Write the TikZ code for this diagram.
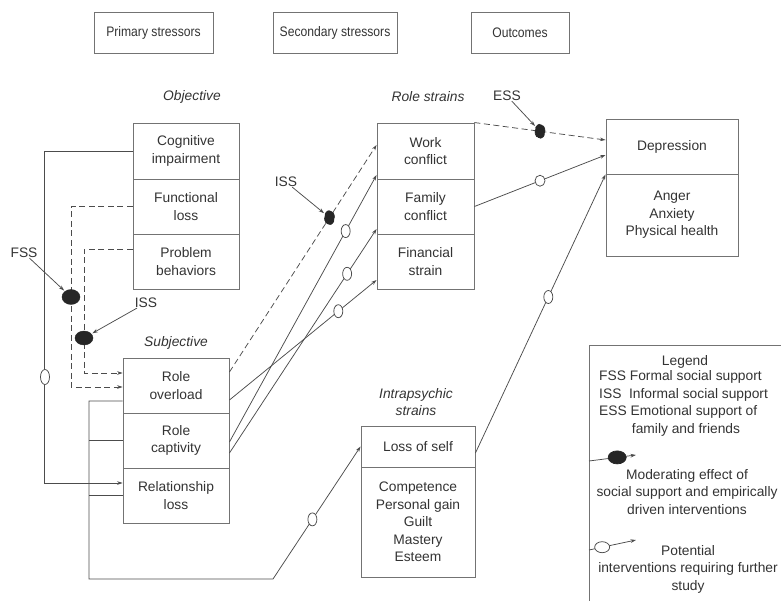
\documentclass[tikz,border=0pt]{standalone}
\usepackage{fontspec}
\setmainfont{Liberation Sans}
\usepackage{graphicx}
\usetikzlibrary{arrows.meta,shapes.geometric}
\definecolor{boxc}{gray}{0.45}
\definecolor{linec}{gray}{0.30}
\definecolor{txtc}{gray}{0.20}
\newcommand\myfont{\fontsize{13.8}{17.5}\selectfont}
\newcommand\hscale[1]{\scalebox{0.88}[1]{#1}}
\begin{document}
\begin{tikzpicture}[x=1pt,y=-1pt,
  cell/.style={draw=boxc, line width=0.9pt, inner sep=0pt, align=center, text=txtc, font=\myfont},
  hdr/.style={cell, minimum height=41pt},
  lab/.style={inner sep=0pt, align=center, text=txtc, font=\myfont},
  ilab/.style={lab, font=\myfont\itshape},
  cline/.style={draw=linec, line width=0.75pt},
  dline/.style={cline, dash pattern=on 6pt off 3.5pt},
  arr/.style={-{Stealth[length=5.5pt,width=3.6pt]}},
  bdot/.style={ellipse, fill=black!85, draw=black!85, inner sep=0pt, minimum width=10pt, minimum height=14pt},
  odot/.style={ellipse, fill=white, draw=linec, line width=0.75pt, inner sep=0pt, minimum width=9pt, minimum height=13pt}]
\useasboundingbox (0,0) rectangle (781,601);
\clip (0,0) rectangle (781,601);

% headers
\node[hdr, minimum width=119pt] (h1) at (153.5,32.5) {\hscale{Primary stressors}};
\node[hdr, minimum width=124pt] (h2) at (335,32.5) {\hscale{Secondary stressors}};
\node[hdr, minimum width=98pt] (h3) at (520,32.5) {\hscale{Outcomes}};

% group labels
\node[ilab] (lobj) at (192,97) {Objective};
\node[ilab] (lrs) at (428,97) {Role strains};
\node[ilab] (lsub) at (176,343) {Subjective};
\node[ilab] (lint) at (416,402) {Intrapsychic\\strains};

% objective cells
\node[cell, minimum width=106pt, minimum height=56pt] (cog) at (186,151) {Cognitive\\impairment};
\node[cell, minimum width=106pt, minimum height=55pt] (fun) at (186,206.5) {Functional\\loss};
\node[cell, minimum width=106pt, minimum height=55pt] (prob) at (186,261.5) {Problem\\behaviors};

% subjective cells
\node[cell, minimum width=106pt, minimum height=55pt] (ovl) at (176,385.5) {Role\\overload};
\node[cell, minimum width=106pt, minimum height=55pt] (cap) at (176,440.5) {Role\\captivity};
\node[cell, minimum width=106pt, minimum height=55pt] (rel) at (176,495.5) {Relationship\\loss};

% role strains
\node[cell, minimum width=97pt, minimum height=56pt] (work) at (425.5,151) {Work\\conflict};
\node[cell, minimum width=97pt, minimum height=55pt] (fam) at (425.5,206.5) {Family\\conflict};
\node[cell, minimum width=97pt, minimum height=55pt] (fin) at (425.5,261.5) {Financial\\strain};

% outcomes
\node[cell, minimum width=132pt, minimum height=55pt] (dep) at (672,146.5) {Depression};
\node[cell, minimum width=132pt, minimum height=82pt] (oth) at (672,215) {Anger\\Anxiety\\Physical health};

% intrapsychic
\node[cell, minimum width=114pt, minimum height=41pt] (los) at (418,446.5) {Loss of self};
\node[cell, minimum width=114pt, minimum height=110pt] (comp) at (418,522) {Competence\\Personal gain\\Guilt\\Mastery\\Esteem};

% helper coordinates
\coordinate (fssp) at (71,297);
\coordinate (issp) at (84,338);
\coordinate (bl) at (89,579);
\coordinate (br) at (273,579);

% left connectors
\draw[cline, arr] (cog.west) -- ++(-88,0) |- ([yshift=12.5pt]rel.west);
\node[odot, minimum width=9pt, minimum height=15pt] (o1) at (45,377) {};
\draw[dline, arr] (fun.west) -| (fssp) |- ([yshift=-1.5pt]ovl.west);
\draw[dline, arr] ([yshift=12.5pt]prob.west) -| (issp) |- ([yshift=12.5pt]ovl.west);
\node[bdot, minimum width=18pt, minimum height=15pt] (fss) at (fssp) {};
\node[bdot, minimum width=18pt, minimum height=14pt] (iss) at (issp) {};
\node[lab] (fsst) at (24,253) {FSS};
\node[lab] (isst) at (146,303) {ISS};
\draw[cline, arr, shorten >=1pt] (fsst) -- (fss);
\draw[cline, arr, shorten >=1pt] (isst) -- (iss);

% bracket to loss of self
\draw[cline, arr] ([yshift=-15.5pt]ovl.west) -| (bl) -- (br) -- node[odot, pos=0.45] (o2) {} (los.west);
\draw[cline] (cap.west) -- (cap.west -| bl);
\draw[cline] (rel.west) -- (rel.west -| bl);

% subjective -> role strains
\draw[dline, arr] ([yshift=13.5pt]ovl.east) -- node[bdot, pos=0.68] (iss2) {} ([yshift=6pt]work.west);
\draw[cline, arr] ([yshift=-1.5pt]cap.east) -- node[odot, pos=0.79] (o3) {} ([yshift=-24pt]work.west);
\draw[cline, arr] ([yshift=-12.5pt]cap.east) -- node[odot, pos=0.80] (o4) {} ([yshift=-22.5pt]fam.west);
\draw[cline, arr] ([yshift=-14.5pt]ovl.east) -- node[odot, pos=0.74] (o5) {} ([yshift=-18.5pt]fin.west);
\node[lab] (isst2) at (286,182) {ISS};
\draw[cline, arr, shorten >=1pt] (isst2) -- (iss2);

% role strains / intrapsychic -> outcomes
\draw[dline, arr] (work.north east) -- node[bdot, pos=0.5] (ess) {} ([yshift=6.5pt]dep.west);
\draw[cline, arr] (fam.east) -- node[odot, pos=0.5, minimum width=10pt, minimum height=11pt] (o6) {} ([yshift=-8.5pt]dep.west);
\draw[cline, arr] ([yshift=-6.5pt]los.east) -- node[odot, pos=0.56] (o7) {} (dep.south west);
\node[lab] (esst) at (507,96) {ESS};
\draw[cline, arr, shorten >=1pt] (esst) -- (ess);

% legend
\node[draw=boxc, line width=0.9pt, minimum width=230pt, minimum height=290pt, anchor=north west, inner sep=0pt] (leg) at (589,345) {};
\node[lab] (legh) at (685,362) {Legend};
\node[lab, anchor=west, align=left] (legt) at (599,394.5) {FSS Formal social support\\ISS\ \ Informal social support\\ESS Emotional support of};
\node[lab] (legf) at (686,430) {family and friends};
\path (leg.north west) ++(0,116) coordinate (l1);
\draw[cline, arr] (l1) -- ++(47,-6) node[bdot, pos=0.6, minimum width=18pt, minimum height=13pt] (lb) {};
\node[lab] (legm) at (687,492) {Moderating effect of\\social support and empirically\\driven interventions};
\path (leg.north west) ++(0,205) coordinate (l2);
\draw[cline, arr] (l2) -- ++(47,-10) node[odot, pos=0.28, minimum width=15pt, minimum height=11pt] (lo) {};
\node[lab] (legp) at (688,569) {Potential\\interventions requiring further\\study};
\end{tikzpicture}
\end{document}
